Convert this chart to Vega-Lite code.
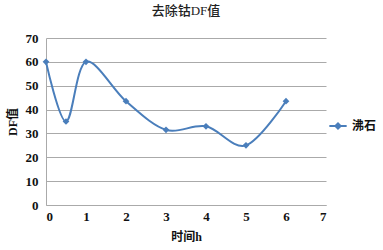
{
  "$schema": "https://vega.github.io/schema/vega-lite/v6.json",
  "width": 280,
  "height": 167,
  "autosize": "none",
  "padding": {"left": 46, "top": 38, "right": 57, "bottom": 45},
  "background": "white",
  "config": {
    "view": {"stroke": null},
    "font": "Liberation Serif, Noto Sans CJK SC",
    "axis": {"labelFont": "Liberation Serif, Noto Sans CJK SC", "titleFont": "Liberation Serif, Noto Sans CJK SC"}
  },
  "title": {
    "text": "去除钴DF值",
    "fontSize": 13,
    "fontWeight": 500,
    "color": "#222",
    "font": "Liberation Serif, Noto Sans CJK SC",
    "offset": 14
  },
  "data": {
    "values": [
      {"t": 0, "df": 60, "series": "沸石"},
      {"t": 0.5, "df": 35, "series": "沸石"},
      {"t": 1, "df": 60, "series": "沸石"},
      {"t": 2, "df": 43.5, "series": "沸石"},
      {"t": 3, "df": 31.5, "series": "沸石"},
      {"t": 4, "df": 33, "series": "沸石"},
      {"t": 5, "df": 25, "series": "沸石"},
      {"t": 6, "df": 43.5, "series": "沸石"}
    ]
  },
  "encoding": {
    "x": {
      "field": "t", "type": "quantitative",
      "scale": {"domain": [0, 7], "nice": false},
      "axis": {
        "title": "时间h", "values": [0,1,2,3,4,5,6,7], "grid": false, "ticks": false,
        "domainColor": "#aaa", "labelFontSize": 13, "labelFontWeight": "bold", "labelColor": "#111",
        "labelPadding": 5, "titleFontSize": 12, "titleFontWeight": "bold", "titleColor": "#111", "titlePadding": 8
      }
    },
    "y": {
      "field": "df", "type": "quantitative",
      "scale": {"domain": [0, 70], "nice": false},
      "axis": {
        "title": "DF值", "values": [0,10,20,30,40,50,60,70], "grid": true, "gridColor": "#aaa", "ticks": false,
        "domainColor": "#aaa", "labelFontSize": 13, "labelFontWeight": "bold", "labelColor": "#111",
        "labelPadding": 8, "titleFontSize": 12, "titleFontWeight": "bold", "titleColor": "#111", "titlePadding": 6
      }
    },
    "color": {
      "field": "series", "type": "nominal",
      "scale": {"range": ["#4a7ebb"]},
      "legend": {
        "title": null, "orient": "none", "legendX": 282, "legendY": 78,
        "symbolType": "M-1,0L1,0M-0.3,0L0,-0.3L0.3,0L0,0.3Z",
        "symbolSize": 300, "symbolStrokeWidth": 2, "symbolFillColor": "#4a7ebb",
        "labelFontSize": 12, "labelFontWeight": "bold", "labelColor": "#111",
        "labelFont": "Liberation Serif, Noto Sans CJK SC"
      }
    }
  },
  "layer": [
    {"mark": {"type": "line", "interpolate": "cardinal", "strokeWidth": 2}},
    {"mark": {"type": "point", "shape": "diamond", "filled": true, "size": 45, "opacity": 1}}
  ]
}
